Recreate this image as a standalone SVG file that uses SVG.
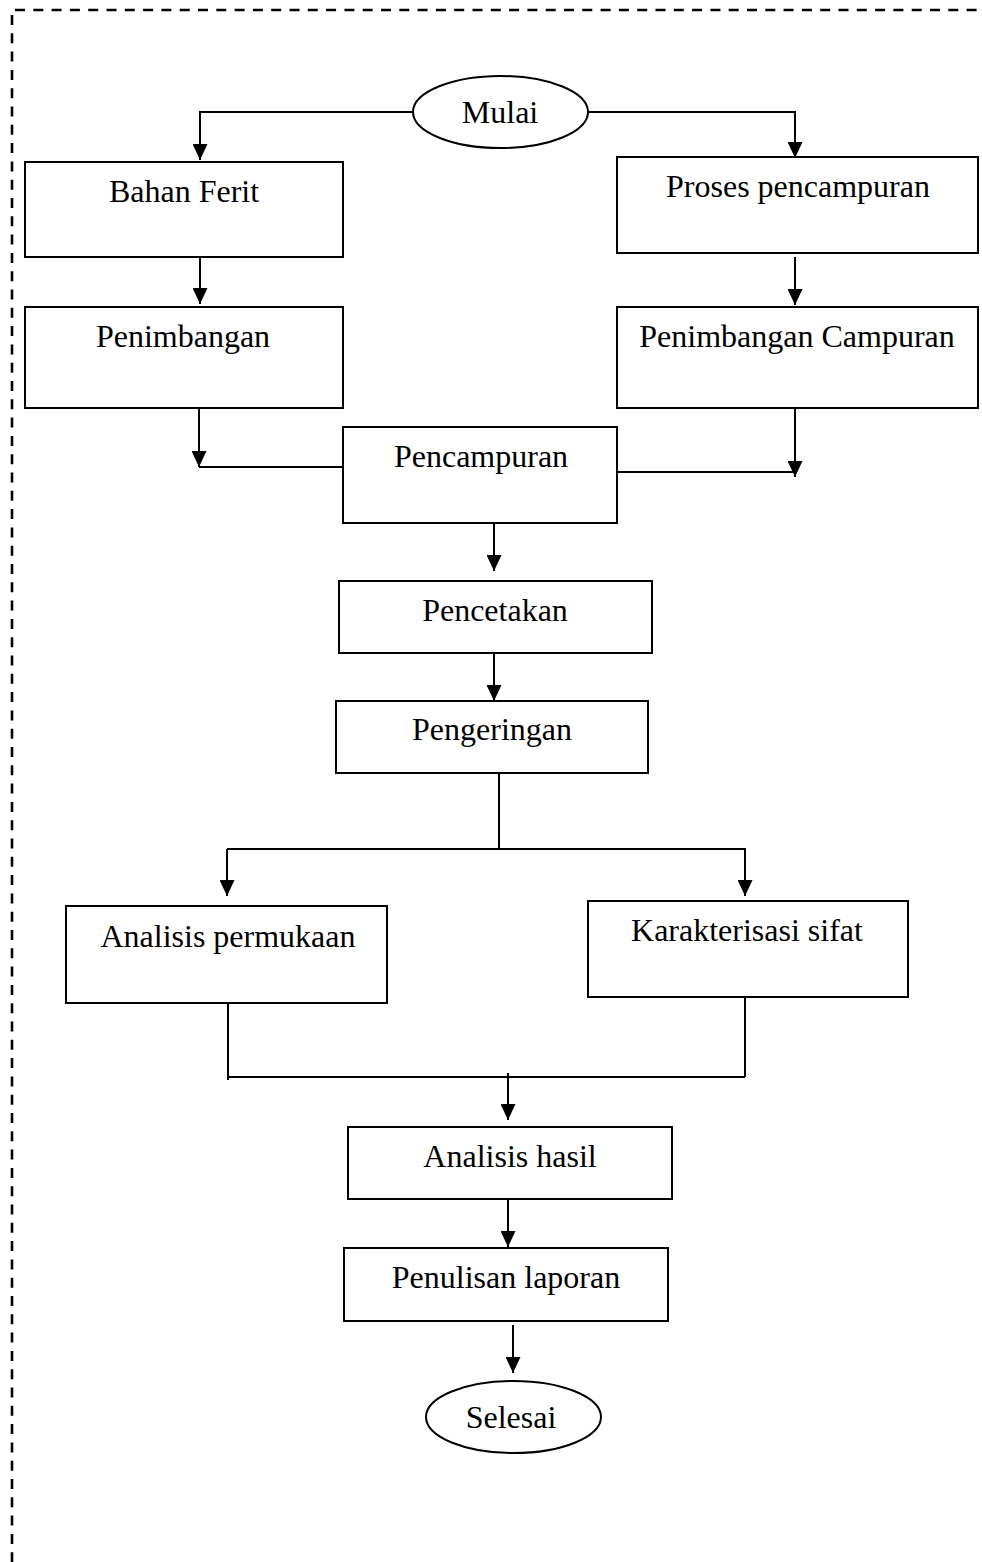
<svg xmlns="http://www.w3.org/2000/svg" width="982" height="1562" viewBox="0 0 982 1562">
<style>
.box{fill:#fff;stroke:#000;stroke-width:2}
.t{font-family:"Liberation Serif","Times New Roman",serif;font-size:32px;fill:#000;text-anchor:middle}
.c{fill:none;stroke:#000;stroke-width:2}
.border{fill:none;stroke:#000;stroke-width:2.6;stroke-dasharray:10 8.3}
</style>
<defs>
<marker id="ah" markerUnits="userSpaceOnUse" markerWidth="16" markerHeight="15" refX="16" refY="7.5" orient="auto">
<path d="M0,0 L16,7.5 L0,15 z" fill="#000"/>
</marker>
</defs>
<rect width="982" height="1562" fill="#fff"/>
<path class="border" d="M15,10 H982"/>
<path class="border" d="M12,15 V1562"/>

<g id="connectors">
<path class="c" d="M413,112 H200 V160" marker-end="url(#ah)"/>
<path class="c" d="M588,112 H795 V158" marker-end="url(#ah)"/>
<path class="c" d="M200,257 V304" marker-end="url(#ah)"/>
<path class="c" d="M795,257 V305" marker-end="url(#ah)"/>
<path class="c" d="M199,408 V467" marker-end="url(#ah)"/>
<path class="c" d="M199,467 H343"/>
<path class="c" d="M795,408 V477" marker-end="url(#ah)"/>
<path class="c" d="M617,472 H795"/>
<path class="c" d="M494,523 V571" marker-end="url(#ah)"/>
<path class="c" d="M494,653 V701" marker-end="url(#ah)"/>
<path class="c" d="M499,770 V849"/>
<path class="c" d="M227,849 H746"/>
<path class="c" d="M227,849 V896" marker-end="url(#ah)"/>
<path class="c" d="M745,849 V896" marker-end="url(#ah)"/>
<path class="c" d="M228,1003 V1080"/>
<path class="c" d="M745,997 V1077"/>
<path class="c" d="M228,1077 H745"/>
<path class="c" d="M508,1073 V1120" marker-end="url(#ah)"/>
<path class="c" d="M508,1199 V1247" marker-end="url(#ah)"/>
<path class="c" d="M513,1325 V1373" marker-end="url(#ah)"/>
</g>

<g id="mulai">
<ellipse class="box" cx="500.5" cy="112" rx="87.5" ry="36"/>
<text class="t" x="500" y="123">Mulai</text>
</g>
<g id="bahan-ferit">
<rect class="box" x="25" y="162" width="318" height="95"/>
<text class="t" x="184" y="202">Bahan Ferit</text>
</g>
<g id="proses-pencampuran">
<rect class="box" x="617" y="157" width="361" height="96"/>
<text class="t" x="798" y="197">Proses pencampuran</text>
</g>
<g id="penimbangan">
<rect class="box" x="25" y="307" width="318" height="101"/>
<text class="t" x="183" y="347">Penimbangan</text>
</g>
<g id="penimbangan-campuran">
<rect class="box" x="617" y="307" width="361" height="101"/>
<text class="t" x="797" y="347">Penimbangan Campuran</text>
</g>
<g id="pencampuran">
<rect class="box" x="343" y="427" width="274" height="96"/>
<text class="t" x="481" y="467">Pencampuran</text>
</g>
<g id="pencetakan">
<rect class="box" x="339" y="581" width="313" height="72"/>
<text class="t" x="495" y="621">Pencetakan</text>
</g>
<g id="pengeringan">
<rect class="box" x="336" y="701" width="312" height="72"/>
<text class="t" x="492" y="740">Pengeringan</text>
</g>
<g id="analisis-permukaan">
<rect class="box" x="66" y="906" width="321" height="97"/>
<text class="t" x="228" y="947">Analisis permukaan</text>
</g>
<g id="karakterisasi-sifat">
<rect class="box" x="588" y="901" width="320" height="96"/>
<text class="t" x="747" y="941">Karakterisasi sifat</text>
</g>
<g id="analisis-hasil">
<rect class="box" x="348" y="1127" width="324" height="72"/>
<text class="t" x="510" y="1167">Analisis hasil</text>
</g>
<g id="penulisan-laporan">
<rect class="box" x="344" y="1248" width="324" height="73"/>
<text class="t" x="506" y="1288">Penulisan laporan</text>
</g>
<g id="selesai">
<ellipse class="box" cx="513.5" cy="1417" rx="87.5" ry="36"/>
<text class="t" x="511" y="1428">Selesai</text>
</g>
</svg>
